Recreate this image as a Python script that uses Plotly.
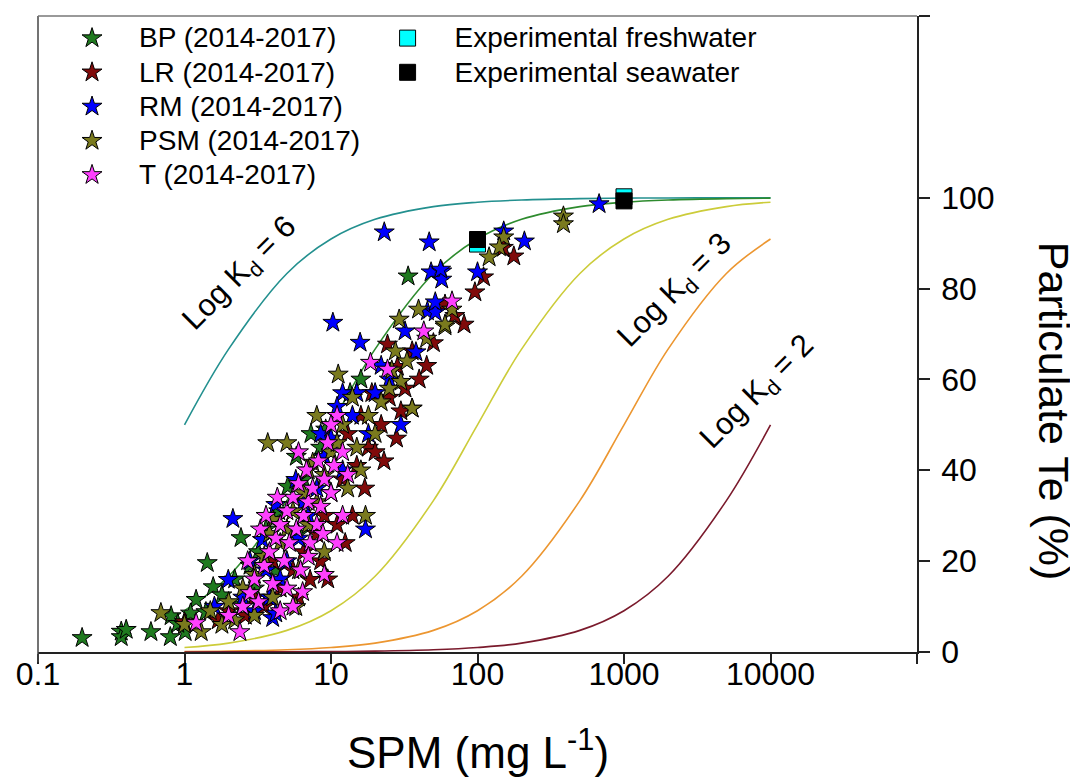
import math
import plotly.graph_objects as go

# ---------------- data ----------------
# Kd model curves (SPM in mg/L, % particulate)
curve_spm = [1, 2, 5, 10, 20, 50, 100, 200, 500, 1000, 2000, 5000, 10000]
kd6_pct = [50.0, 66.67, 83.33, 90.91, 95.24, 98.04, 99.01, 99.50, 99.80, 99.90, 99.95, 99.98, 99.99]
kd5_pct = [9.09, 16.67, 33.33, 50.0, 66.67, 83.33, 90.91, 95.24, 98.04, 99.01, 99.50, 99.80, 99.90]
kd4_pct = [0.99, 1.96, 4.76, 9.09, 16.67, 33.33, 50.0, 66.67, 83.33, 90.91, 95.24, 98.04, 99.01]
kd3_pct = [0.10, 0.20, 0.50, 0.99, 1.96, 4.76, 9.09, 16.67, 33.33, 50.0, 66.67, 83.33, 90.91]
kd2_pct = [0.01, 0.02, 0.05, 0.10, 0.20, 0.50, 0.99, 1.96, 4.76, 9.09, 16.67, 33.33, 50.0]

bp_spm = [0.2, 0.37, 0.37, 0.4, 0.59, 0.8, 0.81, 1.01, 1.2, 1.43, 1.57, 2.43, 5.07, 33.6,
          1.1, 1.8, 2.2, 2.8, 3.2, 3.6, 4.4, 5.8, 6.5, 7.3, 8.5, 9.2, 11, 13.5, 16,
          3.0, 2.5, 4.2, 6.0, 0.9, 1.4]
bp_pct = [3.1, 4.5, 3.3, 4.9, 4.4, 3.3, 7.9, 4.4, 11.5, 19.6, 14.3, 25.1, 36.4, 82.7,
          8.5, 12.5, 16, 19, 22, 27, 31, 43, 38, 48, 45, 49, 52, 57, 60,
          14, 10.5, 18, 26, 6.2, 8.8]

lr_spm = [1.0, 7.2, 24.3, 35.8, 28.4, 60, 177, 110, 96, 81, 35.8, 30, 22, 18, 20, 15, 12, 10,
          9, 8, 6.5, 5.5, 4.5, 3.5, 2.6, 13, 16, 25, 40, 14, 17, 11, 8.5, 6, 45, 28, 2, 1.7,
          3, 4, 19, 150, 23, 32, 50, 70, 12.5, 9.5]
lr_pct = [6.6, 15.9, 67.7, 66.2, 62.8, 76.5, 87.1, 82.5, 79.2, 72.1, 53.6, 53, 50, 45, 44, 41, 38, 35,
          30, 26, 22, 18, 14, 10, 8, 48, 52, 56, 60, 30, 36, 28, 20, 12, 63, 47, 9, 7,
          12, 20, 57, 89, 42, 58, 68, 74, 24, 16]

rm_spm = [23.1, 46.8, 48.2, 57, 57, 10.3, 15.8, 45.5, 51.5, 51.5, 32, 676, 151, 209, 100, 56,
          1.99, 4.0, 5.75, 4.2, 3.4, 2.14, 17.2, 15, 12, 20, 10, 9, 8, 7, 6, 5, 4.5, 3.8, 3,
          2.5, 12, 14, 25, 30, 8.5, 11, 6.5, 3.6, 1.6, 2.8, 4.2, 18, 22, 38]
rm_pct = [92.4, 90.2, 83.6, 83.8, 82.0, 72.5, 68.1, 75.0, 74.8, 77.0, 70.6, 98.6, 92.6, 90.4, 83.6, 84.2,
          15.9, 7.5, 37.9, 32.4, 24.7, 29.3, 27, 57, 57, 57, 47, 43, 36, 30, 25, 20, 16, 12, 9,
          12, 40, 52, 60, 50, 48, 54, 33, 18, 10, 20, 8.5, 48, 63, 66]

psm_spm = [0.69, 1.3, 5.75, 7.5, 4.0, 29.2, 39.6, 60, 27.5, 11.2, 386, 386, 151, 141, 120, 67, 60,
           17.2, 35.8, 30, 1.0, 1.5, 2, 2.5, 3, 3.5, 4.5, 5, 5.5, 6.5, 7, 8, 9, 10, 11, 12, 13,
           15, 18, 20, 22, 25, 6, 4, 3, 5, 2.2, 1.8, 9, 14, 8, 26, 7, 3.8, 3.7, 45, 16, 33]
psm_pct = [8.6, 4.4, 9.9, 41.7, 29.1, 73.2, 75.4, 71.7, 66.2, 61.1, 95.9, 94.2, 91.3, 89.1, 86.9, 75.4, 72.1,
           30, 53.6, 59.5, 6.0, 9, 11, 14, 17, 21, 24, 27, 31, 35, 28, 33, 39, 44, 46, 50, 36,
           45, 52, 48, 55, 58, 18, 12, 8, 46, 7, 6, 22, 56, 52, 62, 40, 26, 46, 69, 40, 64]

t_spm = [1.2, 2.39, 6.4, 43, 18.6, 24.3, 67, 2, 2.5, 2.8, 3, 3.2, 3.5, 3.8, 4, 4.2, 4.5, 4.8, 5,
         5.2, 5.5, 5.8, 6, 6.2, 6.5, 6.8, 7, 7.2, 7.5, 8, 8.2, 8.5, 9, 9.5, 10, 10.5, 11, 12, 13,
         10, 3.3, 2.7, 4.5, 5, 7, 8.8, 6, 3.6, 4.3, 5.5, 12, 9, 11]
t_pct = [6.4, 4.4, 13.2, 70.6, 63.7, 62.2, 77.2, 8, 10, 13, 16, 11, 19, 22, 15, 25, 28, 20, 31,
         24, 34, 27, 37, 18, 30, 40, 33, 24, 36, 28, 42, 32, 38, 46, 35, 41, 52, 44, 39,
         50, 27, 20, 9, 14, 21, 26, 44, 30, 34, 10, 30, 17, 24]

fresh_spm = [100, 1000]
fresh_pct = [89.8, 100.2]
sea_spm = [100, 1000]
sea_pct = [90.8, 99.3]

x_tickvals = [0.1, 1, 10, 100, 1000, 10000, 100000]
x_ticktext = ["0.1", "1", "10", "100", "1000", "10000", ""]
y_tickvals = [0, 20, 40, 60, 80, 100, 140]
y_ticktext = ["0", "20", "40", "60", "80", "100", ""]

# ---------------- figure ----------------
FONT = "Liberation Sans, Arial, sans-serif"
fig = go.Figure()

curves = [
    (kd6_pct, "#23908f"),
    (kd5_pct, "#2e8b2e"),
    (kd4_pct, "#cccc3a"),
    (kd3_pct, "#ec9630"),
    (kd2_pct, "#7a1a2c"),
]
for pct, col in curves:
    fig.add_trace(go.Scatter(x=curve_spm, y=pct, mode="lines",
                             line=dict(color=col, width=1.6, shape="spline", smoothing=1.0),
                             showlegend=False, hoverinfo="skip"))


def legtext(s):
    return '<span style="font-size:28px">' + s + '</span>'


series = [
    ("BP (2014-2017)", bp_spm, bp_pct, "#1f7a1f"),
    ("LR (2014-2017)", lr_spm, lr_pct, "#800a0a"),
    ("RM (2014-2017)", rm_spm, rm_pct, "#0000ff"),
    ("PSM (2014-2017)", psm_spm, psm_pct, "#7a7a1e"),
    ("T (2014-2017)", t_spm, t_pct, "#ff40ff"),
]
for name, xs, ys, col in series:
    fig.add_trace(go.Scatter(x=xs, y=ys, mode="markers", name=legtext(name),
                             marker=dict(symbol="star", size=15, color=col,
                                         line=dict(color="black", width=1)),
                             legend="legend"))

# experimental points drawn on the overlaying label axis (same log range)
fig.add_trace(go.Scatter(x=fresh_spm, y=fresh_pct, mode="markers", xaxis="x2",
                         name=legtext("Experimental freshwater"),
                         marker=dict(symbol="square", size=16, color="#00ffff",
                                     line=dict(color="black", width=1)),
                         legend="legend2"))
fig.add_trace(go.Scatter(x=sea_spm, y=sea_pct, mode="markers", xaxis="x2",
                         name=legtext("Experimental seawater"),
                         marker=dict(symbol="square", size=16, color="black",
                                     line=dict(color="black", width=1)),
                         legend="legend2"))

legend_common = dict(font=dict(family=FONT, size=24, color="black"),
                     bgcolor="rgba(0,0,0,0)", borderwidth=0, itemwidth=84,
                     yanchor="top", xanchor="left", tracegroupgap=0)

fig.update_layout(
    width=1078, height=778,
    margin=dict(l=26, r=169, t=8, b=134),
    paper_bgcolor="white", plot_bgcolor="white",
    font=dict(family=FONT, color="black"),
    legend=dict(x=0.008, y=1.0, **legend_common),
    legend2=dict(x=0.367, y=1.0, **legend_common),
    # x axis: line + tick marks only
    xaxis=dict(type="log", range=[-1, 5], tickvals=x_tickvals, ticktext=x_ticktext,
               ticks="outside", ticklen=10, tickwidth=1.5, tickcolor="#222",
               showline=True, linecolor="#222", linewidth=1.5,
               showgrid=False, zeroline=False, showticklabels=False),
    # overlaying x axis: tick labels only (sit close to the axis line)
    xaxis2=dict(type="log", range=[-1, 5], tickvals=x_tickvals, ticktext=x_ticktext,
                overlaying="x", anchor="y", side="bottom", ticks="",
                showline=False, showgrid=False, zeroline=False,
                tickfont=dict(family=FONT, size=32, color="black")),
    yaxis=dict(range=[0, 140], side="right", tickvals=y_tickvals, ticktext=y_ticktext,
               ticks="outside", ticklen=11, tickwidth=1.5, tickcolor="#222",
               showline=True, linecolor="#222", linewidth=1.5,
               showgrid=False, zeroline=False, ticklabelstandoff=5,
               tickfont=dict(family=FONT, size=32, color="black")),
    showlegend=True,
)

# frame: left and top lines
fig.add_shape(type="line", xref="paper", yref="paper", x0=0, x1=0, y0=-0.016, y1=1,
              line=dict(color="#444", width=1.5))
fig.add_shape(type="line", xref="paper", yref="paper", x0=0, x1=1, y0=1, y1=1,
              line=dict(color="#777", width=1.5))

# axis titles
fig.add_annotation(text="SPM (mg L<sup>-1</sup>)", xref="paper", yref="paper",
                   x=0.5, y=-0.154, xanchor="center", yanchor="middle", showarrow=False,
                   font=dict(family=FONT, size=44, color="black"))
fig.add_annotation(text="Particulate Te (%)", xref="paper", yref="paper",
                   x=1.156, y=0.379, xanchor="center", yanchor="middle",
                   textangle=90, showarrow=False,
                   font=dict(family=FONT, size=43, color="black"))

# Kd labels
kd_labels = [("Log K<sub>d</sub> = 6", 2.43, 83.1),
             ("Log K<sub>d</sub> = 3", 2265, 79.4),
             ("Log K<sub>d</sub> = 2", 8170, 57.1)]
for txt, xv, yv in kd_labels:
    fig.add_annotation(text=txt, x=math.log10(xv), y=yv, xref="x", yref="y",
                       xanchor="center", yanchor="middle",
                       textangle=-45, showarrow=False,
                       font=dict(family=FONT, size=31, color="black"))

fig.write_html("out.html")
